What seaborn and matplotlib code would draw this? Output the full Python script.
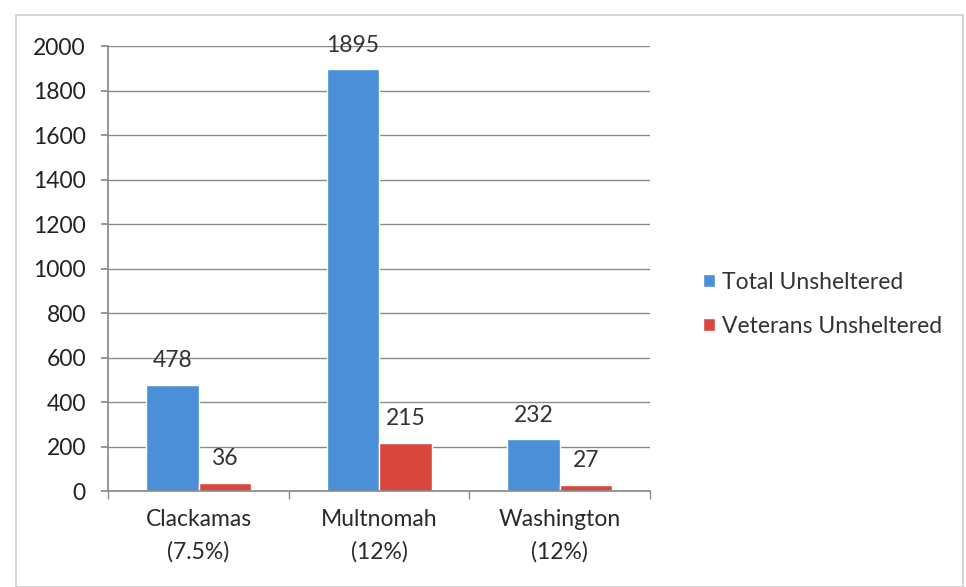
import matplotlib
matplotlib.use("Agg")
import matplotlib.pyplot as plt
import seaborn as sns
import pandas as pd
from matplotlib.patches import Rectangle

categories = ["Clackamas\n(7.5%)", "Multnomah\n(12%)", "Washington\n(12%)"]
total_unsheltered = [478, 1895, 232]
veterans_unsheltered = [36, 215, 27]
series_names = ["Total Unsheltered", "Veterans Unsheltered"]
yticks = [0, 200, 400, 600, 800, 1000, 1200, 1400, 1600, 1800, 2000]

df = pd.DataFrame({
    "county": categories * 2,
    "series": [series_names[0]] * 3 + [series_names[1]] * 3,
    "value": total_unsheltered + veterans_unsheltered,
})

sns.set_theme(style="white")
plt.rcParams["font.family"] = ["Lato", "DejaVu Sans"]
FS = 16.5

fig = plt.figure(figsize=(9.66, 5.87), dpi=100)
ax = fig.add_axes([0.112, 0.1635, 0.561, 0.758])

colors = ["#4a8fd8", "#d9463e"]
sns.barplot(data=df, x="county", y="value", hue="series", palette=colors,
            width=0.58, saturation=1, ax=ax, legend=True)

ax.set_ylim(0, 2000)
ax.set_xlim(-0.5, 2.5)
ax.set_yticks(yticks)
ax.set_yticklabels([str(t) for t in yticks], fontsize=FS, color="#222222")
ax.set_xlabel("")
ax.set_ylabel("")
ax.yaxis.grid(True, color="#8a8a8a", linewidth=1.0)
ax.set_axisbelow(True)
for s in ["top", "right"]:
    ax.spines[s].set_visible(False)
ax.spines["left"].set_color("#8a8a8a")
ax.spines["bottom"].set_color("#8a8a8a")
ax.tick_params(axis="y", length=5, color="#8a8a8a", left=True, pad=11)

ax.set_xticks([0, 1, 2])
ax.set_xticklabels(categories, fontsize=FS, color="#2a2a2a", linespacing=1.6)
ax.tick_params(axis="x", length=0, pad=13)
ax.set_xticks([-0.5, 0.5, 1.5, 2.5], minor=True)
ax.tick_params(axis="x", which="minor", length=6, color="#8a8a8a", bottom=True)

for container in ax.containers:
    ax.bar_label(container, padding=10, fontsize=FS, color="#333333")

leg = ax.legend(loc="center left", bbox_to_anchor=(1.06, 0.42), frameon=False,
                fontsize=FS, handlelength=0.5, handleheight=0.5, handletextpad=0.3,
                labelspacing=1.0)
for t in leg.get_texts():
    t.set_color("#333333")

fig.patches.append(Rectangle((0.017, 0.0), 0.98, 0.975, transform=fig.transFigure,
                             fill=False, edgecolor="#cfcfcf", linewidth=1.2))

fig.savefig("out.png", dpi=100)
